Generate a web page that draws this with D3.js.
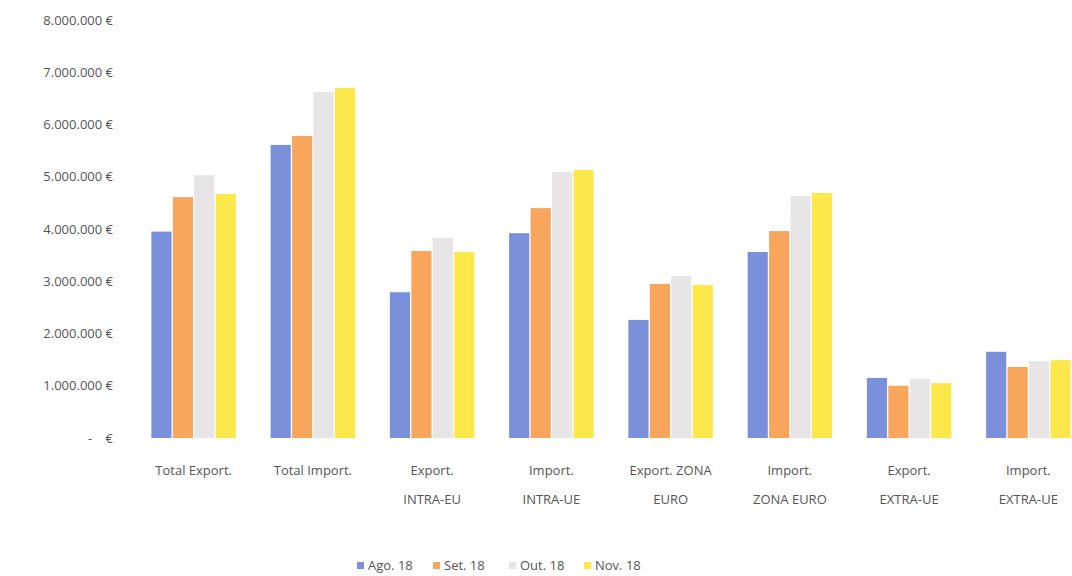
<!DOCTYPE html>
<html>
<head>
<meta charset="utf-8">
<script src="https://cdn.jsdelivr.net/npm/d3@7"></script>
<style>
  body { margin: 0; background: #fff; }
  svg { display: block; }
  text { font-family: "Open Sans", "Noto Sans", sans-serif; fill: #555; }
</style>
</head>
<body>
<svg id="chart" width="1072" height="576"></svg>
<script>
const categories = [
  ["Total Export."],
  ["Total Import."],
  ["Export.", "INTRA-EU"],
  ["Import.", "INTRA-UE"],
  ["Export. ZONA", "EURO"],
  ["Import.", "ZONA EURO"],
  ["Export.", "EXTRA-UE"],
  ["Import.", "EXTRA-UE"]
];
const seriesNames = ["Ago. 18", "Set. 18", "Out. 18", "Nov. 18"];
const ago18 = [3950000, 5610000, 2790000, 3920000, 2260000, 3560000, 1150000, 1650000];
const set18 = [4610000, 5780000, 3580000, 4400000, 2950000, 3960000, 1000000, 1360000];
const out18 = [5030000, 6620000, 3830000, 5090000, 3100000, 4630000, 1130000, 1470000];
const nov18 = [4670000, 6700000, 3560000, 5130000, 2930000, 4690000, 1050000, 1490000];
const yTicks = [0, 1000000, 2000000, 3000000, 4000000, 5000000, 6000000, 7000000, 8000000];
const colors = ["#7a90da", "#f8a65c", "#e7e5e5", "#fde84c"];

const series = [ago18, set18, out18, nov18];
const svg = d3.select("#chart");

const y = d3.scaleLinear().domain([0, 8000000]).range([438, 20]);
const x0 = d3.scaleBand().domain(d3.range(categories.length)).range([134, 1088]).paddingInner(0.27).paddingOuter(0.135);
const x1 = d3.scaleBand().domain(d3.range(series.length)).range([0, x0.bandwidth()]).padding(0.06);

const fmt = v => v === 0 ? "-    €" : d3.format(",")(v).replace(/,/g, ".") + " €";

// Y axis labels
const yAxis = d3.axisLeft(y).tickValues(yTicks).tickSize(0).tickPadding(0).tickFormat(fmt);
const gy = svg.append("g").attr("transform", "translate(113,0)").call(yAxis);
gy.select(".domain").remove();
gy.selectAll("text").style("font-size", "13px").style("white-space", "pre").attr("fill", "#555");

// Bars
const groups = svg.append("g").selectAll("g").data(categories).join("g")
  .attr("transform", (d, i) => `translate(${x0(i)},0)`);
groups.selectAll("rect")
  .data((d, i) => series.map((s, k) => ({ k, v: s[i] })))
  .join("rect")
  .attr("x", d => x1(d.k))
  .attr("width", x1.bandwidth())
  .attr("y", d => y(d.v))
  .attr("height", d => y(0) - y(d.v))
  .attr("fill", d => colors[d.k]);

// X axis category labels
const xAxis = d3.axisBottom(x0).tickSize(0).tickFormat(() => "");
const gx = svg.append("g").attr("transform", `translate(0,${y(0)})`).call(xAxis);
gx.select(".domain").remove();
gx.selectAll(".tick").each(function(d) {
  const t = d3.select(this).append("text")
    .attr("text-anchor", "middle")
    .attr("fill", "#555")
    .style("font-size", "13px");
  categories[d].forEach((line, j) => {
    t.append("tspan").attr("x", 0).attr("y", 37 + j * 29).text(line);
  });
});

// Legend
const legendX = [357, 433, 509, 584];
const lg = svg.append("g").selectAll("g").data(seriesNames).join("g")
  .attr("transform", (d, i) => `translate(${legendX[i]},562)`);
lg.append("rect").attr("width", 7).attr("height", 7).attr("y", 0).attr("fill", (d, i) => colors[i]);
lg.append("text").attr("x", 11).attr("y", 7.5).style("font-size", "13px").text(d => d);
</script>
</body>
</html>
